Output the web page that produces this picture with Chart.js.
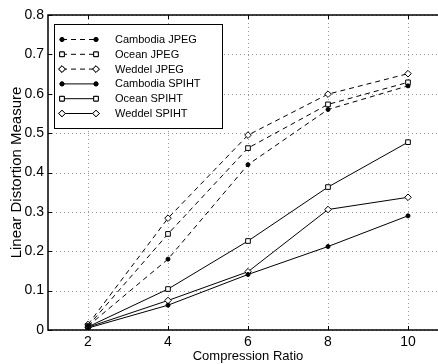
<!DOCTYPE html>
<html>
<head>
<meta charset="utf-8">
<script src="https://cdn.jsdelivr.net/npm/chart.js@4.4.0/dist/chart.umd.min.js"></script>
<style>
  html, body { margin: 0; padding: 0; background: #fff; overflow: hidden; }
  #wrap { width: 460px; height: 364px; }
</style>
</head>
<body>
<div id="wrap"><canvas id="c" width="460" height="364"></canvas></div>
<script>
// compression ratios on the x axis
const ratios = [2, 4, 6, 8, 10];
const yTicks = [0, 0.1, 0.2, 0.3, 0.4, 0.5, 0.6, 0.7, 0.8];

// linear distortion measure
const cambodiaJpeg = [0.010, 0.180, 0.420, 0.560, 0.620];
const oceanJpeg    = [0.010, 0.244, 0.462, 0.573, 0.629];
const weddelJpeg   = [0.014, 0.284, 0.495, 0.599, 0.651];
const cambodiaSpiht = [0.005, 0.063, 0.141, 0.212, 0.290];
const oceanSpiht    = [0.008, 0.104, 0.226, 0.363, 0.477];
const weddelSpiht   = [0.007, 0.075, 0.148, 0.306, 0.337];

const names = ['Cambodia JPEG', 'Ocean JPEG', 'Weddel JPEG',
               'Cambodia SPIHT', 'Ocean SPIHT', 'Weddel SPIHT'];
const values = [cambodiaJpeg, oceanJpeg, weddelJpeg, cambodiaSpiht, oceanSpiht, weddelSpiht];
const markers = ['circle', 'rect', 'rectRot', 'circle', 'rect', 'rectRot'];

const FONT = "'Liberation Sans', Arial, Helvetica, sans-serif";

function series(i) {
  const filled = markers[i] === 'circle';
  return {
    label: names[i],
    data: ratios.map((x, k) => ({ x, y: values[i][k] })),
    borderColor: '#000',
    borderWidth: 1,
    borderDash: i < 3 ? [5, 4] : [],
    pointStyle: markers[i],
    pointRadius: filled ? 2 : 3.3,
    pointBackgroundColor: filled ? '#000' : '#fff',
    pointBorderColor: '#000',
    pointBorderWidth: 1,
    fill: false,
    tension: 0,
  };
}

// dotted grid behind the lines
const gridPlugin = {
  id: 'dotgrid',
  beforeDatasetsDraw(chart) {
    const { ctx, chartArea: a, scales } = chart;
    ctx.save();
    ctx.strokeStyle = '#999';
    ctx.lineWidth = 1;
    ctx.setLineDash([1, 3]);
    ctx.beginPath();
    scales.x.ticks.forEach(t => {
      const px = Math.round(scales.x.getPixelForValue(t.value)) + 0.5;
      ctx.moveTo(px, a.top); ctx.lineTo(px, a.bottom);
    });
    scales.y.ticks.forEach(t => {
      const py = Math.round(scales.y.getPixelForValue(t.value)) + 0.5;
      ctx.moveTo(a.left, py); ctx.lineTo(a.right, py);
    });
    ctx.stroke();
    ctx.restore();
  }
};

// axes frame, inward ticks and the boxed legend
const framePlugin = {
  id: 'frame',
  afterDraw(chart) {
    const { ctx, chartArea: a, scales } = chart;
    ctx.save();
    ctx.strokeStyle = '#000';
    ctx.lineWidth = 1;
    ctx.setLineDash([]);
    ctx.beginPath();
    scales.x.ticks.forEach(t => {
      const px = Math.round(scales.x.getPixelForValue(t.value)) + 0.5;
      ctx.moveTo(px, a.bottom); ctx.lineTo(px, a.bottom - 4);
      ctx.moveTo(px, a.top); ctx.lineTo(px, a.top + 4);
    });
    scales.y.ticks.forEach(t => {
      const py = Math.round(scales.y.getPixelForValue(t.value)) + 0.5;
      ctx.moveTo(a.left, py); ctx.lineTo(a.left + 4, py);
      ctx.moveTo(a.right, py); ctx.lineTo(a.right - 4, py);
    });
    ctx.stroke();
    ctx.lineWidth = 1.5;
    ctx.strokeRect(a.left, a.top, a.right - a.left, a.bottom - a.top);

    // legend
    const lx = 54.5, ly = 24.5, lw = 168, lh = 104;
    ctx.fillStyle = '#fff';
    ctx.fillRect(lx, ly, lw, lh);
    ctx.lineWidth = 1;
    ctx.strokeRect(lx, ly, lw, lh);
    ctx.font = '11px ' + FONT;
    ctx.textBaseline = 'middle';
    chart.data.datasets.forEach((ds, i) => {
      const y = 39.5 + i * 14.8;
      ctx.strokeStyle = '#000';
      ctx.setLineDash(ds.borderDash);
      ctx.beginPath();
      ctx.moveTo(62, y); ctx.lineTo(96, y);
      ctx.stroke();
      ctx.setLineDash([]);
      [62, 96].forEach(px => {
        Chart.helpers.drawPoint(ctx, {
          pointStyle: ds.pointStyle, radius: ds.pointRadius, rotation: 0, borderWidth: 1
        }, px, y);
        ctx.fillStyle = ds.pointBackgroundColor;
        ctx.fill();
        ctx.stroke();
      });
      ctx.fillStyle = '#000';
      ctx.fillText(ds.label, 115, y + 0.5);
    });
    ctx.restore();
  }
};

new Chart(document.getElementById('c'), {
  type: 'line',
  data: { datasets: names.map((_, i) => series(i)) },
  options: {
    responsive: false,
    animation: false,
    layout: { padding: { top: 15, right: 12, left: 0, bottom: 0 } },
    plugins: { legend: { display: false }, tooltip: { enabled: false } },
    scales: {
      x: {
        type: 'linear',
        min: 1, max: 11,
        afterBuildTicks: s => { s.ticks = ratios.map(v => ({ value: v })); },
        afterFit: s => { s.height = 34; },
        grid: { display: false, drawTicks: false },
        border: { display: false },
        ticks: { color: '#000', padding: 4, font: { family: FONT, size: 14 } },
        title: { display: true, text: 'Compression Ratio', color: '#000', padding: { top: -2, bottom: 0 }, font: { family: FONT, size: 13 } },
      },
      y: {
        min: 0, max: 0.8,
        afterBuildTicks: s => { s.ticks = yTicks.map(v => ({ value: v })); },
        afterFit: s => { s.width = 48; },
        grid: { display: false, drawTicks: false },
        border: { display: false },
        ticks: { color: '#000', padding: 4, font: { family: FONT, size: 14 },
                 callback: v => (v === 0 ? '0' : v.toFixed(1)) },
        title: { display: true, text: 'Linear Distortion Measure', color: '#000', padding: { top: 8, bottom: 0 }, font: { family: FONT, size: 15 } },
      },
    },
  },
  plugins: [gridPlugin, framePlugin],
});
</script>
</body>
</html>
